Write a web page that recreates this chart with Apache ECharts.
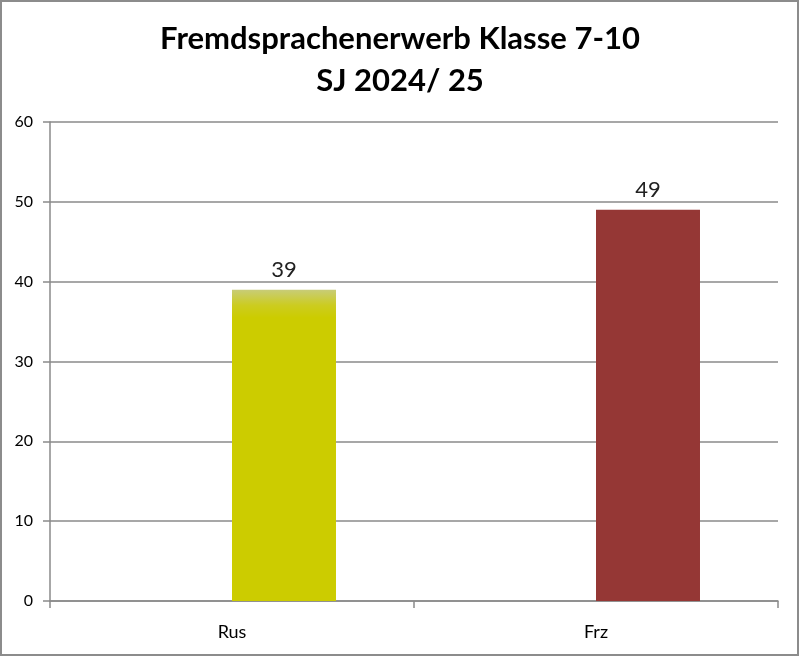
<!DOCTYPE html>
<html>
<head>
<meta charset="utf-8">
<script src="https://cdn.jsdelivr.net/npm/echarts@6/dist/echarts.min.js"></script>
<style>
html,body{margin:0;padding:0;background:#fff;}
#c{width:800px;height:657px;}
</style>
</head>
<body>
<div id="c"></div>
<script>
const titleLines = ['Fremdsprachenerwerb Klasse 7-10', 'SJ 2024/ 25'];
const categories = ['Rus', 'Frz'];
const values = [39, 49];
const barColors = ['#CCCC00', '#953735'];
const yTicks = { min: 0, max: 60, interval: 10 };

const chart = echarts.init(document.getElementById('c'));
const dataItems = values.map((v, i) => ({
  value: v,
  itemStyle: {
    color: i === 0
      ? new echarts.graphic.LinearGradient(0, 0, 0, 1, [
          { offset: 0, color: '#c8cc78' },
          { offset: 0.05, color: '#cccc20' },
          { offset: 0.09, color: '#CCCC00' },
          { offset: 1, color: '#CCCC00' }
        ])
      : barColors[i]
  }
}));

chart.setOption({
  animation: false,
  backgroundColor: '#fff',
  textStyle: { fontFamily: 'Lato' },
  title: {
    text: titleLines.join('\n'),
    left: 'center',
    top: 13,
    textStyle: {
      fontFamily: 'Lato',
      fontWeight: 'bold',
      fontSize: 31,
      lineHeight: 42,
      color: '#000'
    }
  },
  graphic: [{
    type: 'rect',
    shape: { x: 1, y: 1, width: 797, height: 654 },
    style: { fill: 'none', stroke: '#8c8c8c', lineWidth: 2 },
    silent: true
  }],
  grid: { left: 50, right: 22, top: 122, bottom: 56 },
  xAxis: {
    type: 'category',
    data: categories,
    axisLine: { lineStyle: { color: '#8a8a8a', width: 1.5 } },
    axisTick: { show: true, length: 7, lineStyle: { color: '#8a8a8a', width: 1.5 } },
    axisLabel: { color: '#000', fontSize: 18, margin: 22, fontFamily: 'Lato' }
  },
  yAxis: {
    type: 'value',
    min: yTicks.min,
    max: yTicks.max,
    interval: yTicks.interval,
    axisLine: { show: true, lineStyle: { color: '#8a8a8a', width: 1.5 } },
    axisTick: { show: true, length: 7, lineStyle: { color: '#8a8a8a', width: 1.5 } },
    axisLabel: { color: '#000', fontSize: 16, margin: 17, fontFamily: 'Lato' },
    splitLine: { lineStyle: { color: '#8a8a8a', width: 1.5 } }
  },
  series: [
    {
      type: 'bar',
      data: categories.map(() => null),
      barGap: '0%',
      barCategoryGap: '42.86%'
    },
    {
      type: 'bar',
      data: dataItems,
      barGap: '0%',
      barCategoryGap: '42.86%',
      label: {
        show: true,
        position: 'top',
        distance: 9,
        fontSize: 22,
        color: '#222',
        fontFamily: 'Lato'
      }
    }
  ]
});
</script>
</body>
</html>
